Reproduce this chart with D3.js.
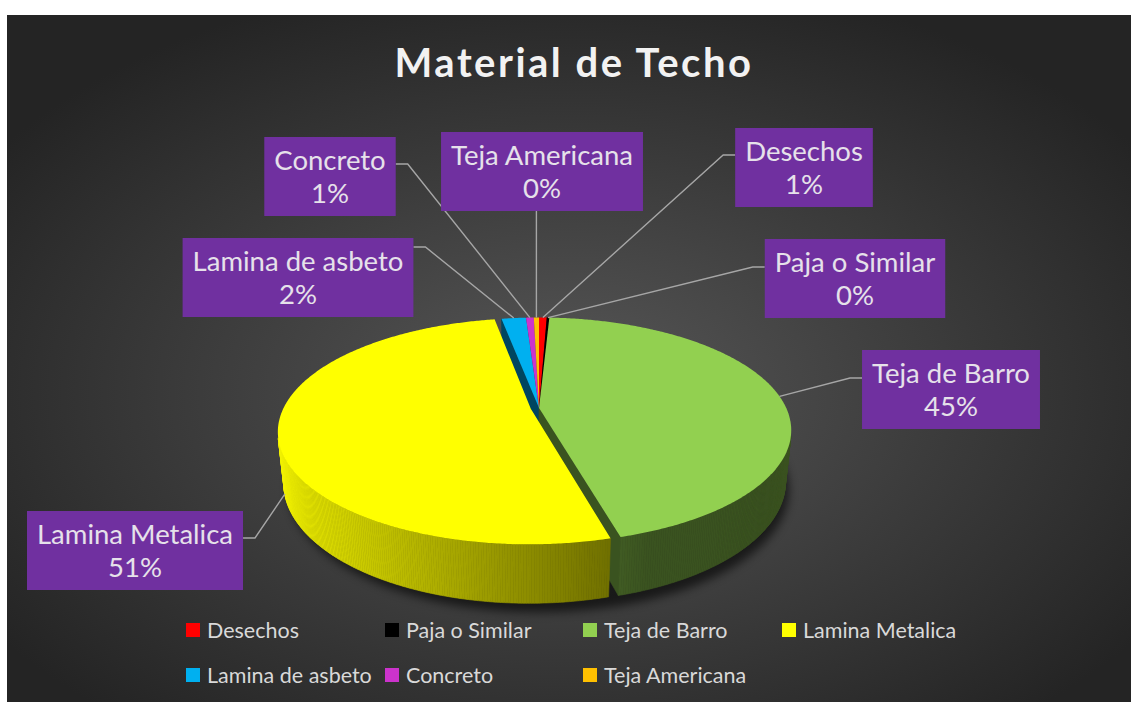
<!DOCTYPE html>
<html lang="es">
<head>
<meta charset="UTF-8">
<script src="https://d3js.org/d3.v7.min.js"></script>
<style>
  body { margin: 0; background: #fff; }
  svg { display: block; }
  text { font-family: Lato, "Open Sans", sans-serif; }
</style>
</head>
<body>
<div id="chart"></div>
<script>
// data (percent of dwellings)
const names  = ["Desechos", "Paja o Similar", "Teja de Barro", "Lamina Metalica", "Lamina de asbeto", "Concreto", "Teja Americana"];
const values = [0.6, 0.2, 44.9, 51.4, 1.9, 0.6, 0.4];
const colors = ["#ff0000", "#000000", "#92d050", "#ffff00", "#00b0f0", "#cc33cc", "#ffc000"];
const title = "Material de Techo";

const width = 1131, height = 702;

// label boxes: centre x, top y, where the leader leaves the box
const labelLayout = {
  "Desechos":         { cx: 804, top: 128, side: "left",   dy: 27 },
  "Paja o Similar":   { cx: 855, top: 239, side: "left",   dy: 28 },
  "Teja de Barro":    { cx: 951, top: 350, side: "left",   dy: 28 },
  "Lamina Metalica":  { cx: 135, top: 511, side: "right",  dy: 27, onSide: true },
  "Lamina de asbeto": { cx: 298, top: 238, side: "right",  dy: 9 },
  "Concreto":         { cx: 330, top: 137, side: "right",  dy: 27 },
  "Teja Americana":   { cx: 542, top: 132, side: "bottom", dy: 0 }
};
const legendCols = [186, 385, 583, 782];
const legendRows = [630, 675];

// 3d view of the pie
const cx = 539, cy = 408, F = 1125, D = 4.55, h = 0.232;
const alpha = 26 * Math.PI / 180, ca = Math.cos(alpha), sa = Math.sin(alpha);
const explodedName = "Lamina Metalica", explodeDist = 0.034;
const cam = [0, D * sa, -D * ca];

function proj(X, Y, Z) {
  const yp = Y * ca + Z * sa, zp = D + Z * ca - Y * sa;
  return [cx + F * X / zp, cy - F * yp / zp, zp];
}

const svg = d3.select("#chart").append("svg")
  .attr("width", width).attr("height", height);

const defs = svg.append("defs");
const bg = defs.append("radialGradient").attr("id", "bg")
  .attr("cx", "50%").attr("cy", "55%").attr("r", "62%");
bg.append("stop").attr("offset", "0%").attr("stop-color", "#575757");
bg.append("stop").attr("offset", "100%").attr("stop-color", "#242424");
defs.append("filter").attr("id", "blur").attr("x", "-20%").attr("y", "-20%")
  .attr("width", "140%").attr("height", "140%")
  .append("feGaussianBlur").attr("stdDeviation", 5);

svg.append("rect").attr("x", 7).attr("y", 15)
  .attr("width", width - 7).attr("height", height - 15)
  .attr("fill", "url(#bg)");

// title
svg.append("text")
  .attr("x", 574).attr("y", 77)
  .attr("text-anchor", "middle")
  .attr("fill", "#f2f2f2")
  .style("font-size", "40px").style("font-weight", "bold")
  .style("letter-spacing", "2.5px")
  .text(title);

const pie = d3.pie().sort(null).value(d => d)(values);
const total = d3.sum(values);

const slices = pie.map((p, i) => {
  const mid = (p.startAngle + p.endAngle) / 2;
  const e = names[i] === explodedName ? explodeDist : 0;
  return { i, a0: p.startAngle, a1: p.endAngle, mid,
           ox: e * Math.sin(mid), oz: e * Math.cos(mid), exploded: e > 0 };
});

function pt(s, phi, r, Y) {
  return proj(s.ox + r * Math.sin(phi), Y, s.oz + r * Math.cos(phi));
}
function visible(n, P) {
  return n[0] * (cam[0] - P[0]) + n[1] * (cam[1] - P[1]) + n[2] * (cam[2] - P[2]) > 0;
}
function shadeColor(c, k) {
  const q = d3.rgb(c);
  return d3.rgb(q.r * k, q.g * k, q.b * k).toString();
}

// drop shadow under the pie
const shadowPts = d3.range(0, 361, 3).map(a => {
  const phi = a * Math.PI / 180;
  const p = proj(1.01 * Math.sin(phi), -h, 1.01 * Math.cos(phi) - 0.02);
  return [p[0], p[1] + 5];
});
svg.append("path")
  .attr("d", d3.line()(shadowPts) + "Z")
  .attr("fill", "#000").attr("opacity", 0.6)
  .attr("filter", "url(#blur)");

// walls
const facets = [];
const step = Math.PI / 360;
slices.forEach(s => {
  const n = Math.max(1, Math.ceil((s.a1 - s.a0) / step));
  for (let k = 0; k < n; k++) {
    const p0 = s.a0 + (s.a1 - s.a0) * k / n, p1 = s.a0 + (s.a1 - s.a0) * (k + 1) / n;
    const pm = (p0 + p1) / 2;
    const P = [s.ox + Math.sin(pm), -h / 2, s.oz + Math.cos(pm)];
    if (!visible([Math.sin(pm), 0, Math.cos(pm)], P)) continue;
    const pts = [pt(s, p0, 1, 0), pt(s, p1, 1, 0), pt(s, p1, 1, -h), pt(s, p0, 1, -h)];
    const k2 = Math.max(0.4, 0.55 - 0.42 * Math.sin(pm));
    facets.push({ pts, color: shadeColor(colors[s.i], k2) });
  }
  // radial walls
  [[s.a0, [-Math.cos(s.a0), 0, Math.sin(s.a0)]], [s.a1, [Math.cos(s.a1), 0, -Math.sin(s.a1)]]]
    .forEach(([a, nrm]) => {
      const P = [s.ox + 0.5 * Math.sin(a), -h / 2, s.oz + 0.5 * Math.cos(a)];
      if (!visible(nrm, P)) return;
      const pts = [pt(s, a, 0, 0), pt(s, a, 1, 0), pt(s, a, 1, -h), pt(s, a, 0, -h)];
      facets.push({ pts, color: shadeColor(colors[s.i], 0.4) });
    });
});
facets.forEach(f => f.depth = d3.mean(f.pts, p => p[2]));
facets.sort((a, b) => b.depth - a.depth);

svg.append("g").selectAll("path").data(facets).join("path")
  .attr("d", f => d3.line()(f.pts.map(p => [p[0], p[1]])) + "Z")
  .attr("fill", f => f.color)
  .attr("stroke", f => f.color).attr("stroke-width", 0.6);

// top faces
svg.append("g").selectAll("path").data(slices).join("path")
  .attr("d", s => {
    const n = Math.max(2, Math.ceil((s.a1 - s.a0) / step));
    const arc = d3.range(n + 1).map(k => pt(s, s.a0 + (s.a1 - s.a0) * k / n, 1, 0));
    const c = pt(s, 0, 0, 0);
    return d3.line()([c, ...arc].map(p => [p[0], p[1]])) + "Z";
  })
  .attr("fill", s => colors[s.i]);

// data labels with leader lines
const labels = svg.append("g");
slices.forEach(s => {
  const name = names[s.i], L = labelLayout[name];
  const pct = Math.round(values[s.i] / total * 100) + "%";
  const g = labels.append("g");
  const rect = g.append("rect").attr("fill", "#7030a0");
  const t1 = g.append("text").attr("x", L.cx).attr("y", L.top + 33)
    .attr("text-anchor", "middle").attr("fill", "#e6e1ea")
    .style("font-size", "27.5px").text(name);
  g.append("text").attr("x", L.cx).attr("y", L.top + 66)
    .attr("text-anchor", "middle").attr("fill", "#e6e1ea")
    .style("font-size", "27.5px").text(pct);
  const w = t1.node().getComputedTextLength() + 20, bh = 79;
  rect.attr("x", L.cx - w / 2).attr("y", L.top).attr("width", w).attr("height", bh);

  const anchor = L.onSide ? pt(s, s.mid - 0.08, 1, -h * 0.95) : pt(s, s.mid, 1, 0);
  let pts;
  if (L.side === "bottom") {
    pts = [[anchor[0], L.top + bh], [anchor[0], anchor[1]]];
  } else {
    const bx = L.side === "left" ? L.cx - w / 2 : L.cx + w / 2;
    const sx = L.side === "left" ? bx - 12 : bx + 12;
    pts = [[bx, L.top + L.dy], [sx, L.top + L.dy], [anchor[0], anchor[1]]];
  }
  svg.insert("path", "g:last-child")
    .attr("d", d3.line()(pts))
    .attr("fill", "none").attr("stroke", "#a6a6a6").attr("stroke-width", 1.4);
});

// legend
const legend = svg.append("g");
names.forEach((name, i) => {
  const x = legendCols[i % 4], y = legendRows[Math.floor(i / 4)];
  legend.append("rect").attr("x", x).attr("y", y - 7)
    .attr("width", 14).attr("height", 14).attr("fill", colors[i]);
  legend.append("text").attr("x", x + 21).attr("y", y + 7.5)
    .attr("fill", "#d9d9d9").style("font-size", "21.5px").text(name);
});
</script>
</body>
</html>
